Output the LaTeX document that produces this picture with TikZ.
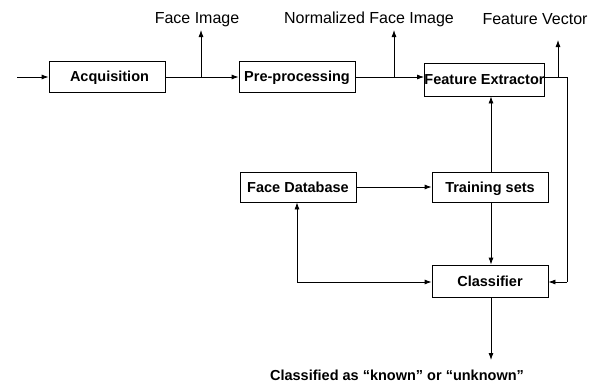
\documentclass[tikz,border=0pt]{standalone}
\usepackage{fontspec}
\setmainfont{Liberation Sans}
\usetikzlibrary{arrows.meta}
\begin{document}
\begin{tikzpicture}[x=1pt,y=-1pt,
  box/.style={draw,line width=0.8pt,rectangle,inner sep=0pt,minimum width=116pt,minimum height=31pt,text height=12pt,text depth=1.6pt,font=\fontsize{14.5}{17}\selectfont\bfseries},
  lbl/.style={inner sep=0pt,font=\fontsize{16}{19}\selectfont},
  conn/.style={line width=0.8pt,-{Latex[length=7pt,width=5pt]}},
  plain/.style={line width=0.8pt}]
\useasboundingbox (0,0) rectangle (593,383);
\node[box] (acq) at (107,76.5) {\hspace*{5pt}Acquisition};
\node[box] (pre) at (297,76.5) {Pre-processing};
\node[box,minimum width=115pt,minimum height=33pt] (fe) at (484.5,79.5) {Feature Extractor};
\node[box,minimum height=30pt] (fd) at (298,187) {Face Database};
\node[box,minimum height=30pt] (ts) at (490,187) {Training sets};
\node[box,minimum height=32pt] (cls) at (490,281) {Classifier};
\node[lbl] (l1) at (197,19.5) {Face Image};
\node[lbl] (l2) at (369,19.5) {Normalized Face Image};
\node[lbl] (l3) at (535,19.5) {Feature Vector};
\node[lbl,font=\fontsize{14.5}{17}\selectfont\bfseries] (l4) at (397,375) {Classified as “known” or “unknown”};
\coordinate (in) at (17,77);
\coordinate (b1) at (201,77);
\coordinate (t1) at (201,30);
\coordinate (b2) at (394,77);
\coordinate (t2) at (394,30);
\coordinate (feo) at (542,77);
\coordinate (b3) at (558,77);
\coordinate (t3) at (558,40);
\coordinate (r1) at (567,77);
\coordinate (r2) at (567,282);
\coordinate (d1) at (297,282);
\coordinate (out) at (491,360);
\draw[conn] (in) -- (acq.west |- in);
\draw[conn] (acq.east |- in) -- (pre.west |- in);
\draw[conn] (b1) -- (t1);
\draw[conn] (pre.east |- in) -- (fe.west |- in);
\draw[conn] (b2) -- (t2);
\draw[plain] (feo) -- (r1) -- (r2);
\draw[conn] (r2) -- (cls.east |- r2);
\draw[conn] (b3) -- (t3);
\draw[conn] (ts.north -| 491,0) -- (fe.south -| 491,0);
\draw[conn] (fd.east) -- (ts.west);
\draw[conn] (ts.south -| 491,0) -- (cls.north -| 491,0);
\draw[line width=0.8pt,{Latex[length=7pt,width=5pt]}-{Latex[length=7pt,width=5pt]}] (fd.south -| d1) -- (d1) -- (cls.west |- d1);
\draw[conn] (cls.south -| out) -- (out);
\end{tikzpicture}
\end{document}
